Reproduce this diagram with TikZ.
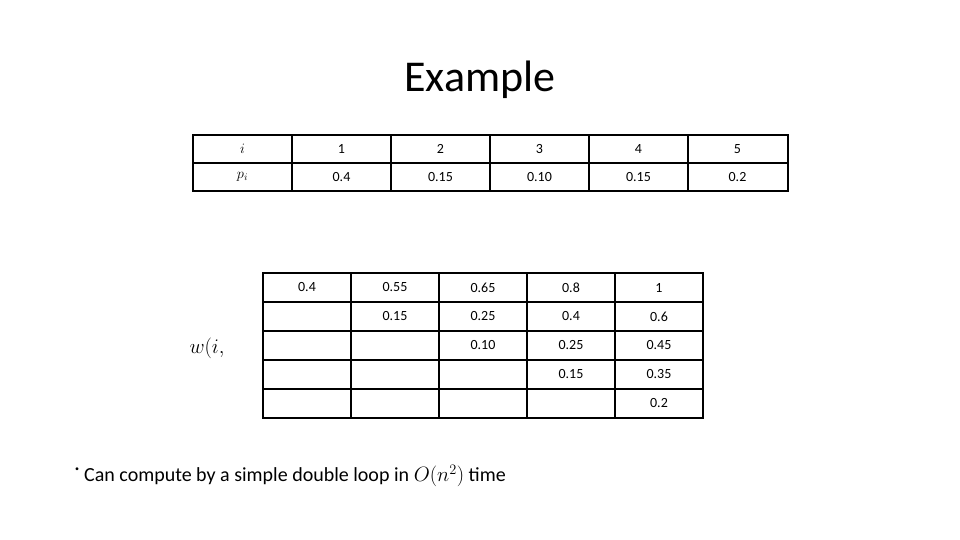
\documentclass[tikz,border=0pt]{standalone}
\usepackage{fontspec}
\setmainfont{Carlito}
\tikzset{
  cell/.style={font=\fontsize{14}{16}\selectfont, inner sep=0pt, anchor=center},
  grid line/.style={line width=1.6pt, black}
}
\begin{document}
\begin{tikzpicture}[x=1pt, y=-1pt]
    \useasboundingbox (0,0) rectangle (960,540);

    \node[font=\fontsize{44}{50}\selectfont] (title) at (480,80) {Example};

    % probabilities table
    \draw[grid line] (193,135) rectangle (788,191);
    \draw[grid line] (193,163) -- (788,163);
    \foreach \x in {292,391,490,589,688}
      \draw[grid line] (\x,135) -- (\x,191);

    \node[cell] (ihead) at (242.5,149) {$i$};
    \node[cell] (phead) at (242.5,177) {$p_i$};
    \foreach \v [count=\k] in {0.4,0.15,0.10,0.15,0.2} {
      \node[cell] (i\k) at (242.5+99*\k,149) {\k};
      \node[cell] (p\k) at (242.5+99*\k,177) {\v};
    }

    % w table
    \draw[grid line] (263,273) rectangle (703,418);
    \foreach \y in {302,331,360,389}
      \draw[grid line] (263,\y) -- (703,\y);
    \foreach \x in {351,439,527,615}
      \draw[grid line] (\x,273) -- (\x,418);

    \node[font=\fontsize{22}{24}\selectfont, anchor=west] (wlabel) at (186,348) {$w(i,$};

    \foreach \r/\vals in {1/{0.4,0.55,0.65,0.8,1},
                          2/{0.15,0.25,0.4,0.6},
                          3/{0.10,0.25,0.45},
                          4/{0.15,0.35},
                          5/{0.2}} {
      \foreach \v [count=\c] in \vals {
        \pgfmathsetmacro{\cx}{307+88*(\c+\r-2)}
        \pgfmathsetmacro{\cy}{287.5+29*(\r-1)}
        \node[cell] (w\r-\c) at (\cx,\cy) {\v};
      }
    }

    % bottom line
    \node[font=\fontsize{8}{10}\selectfont] (bullet) at (77,470) {\textbullet};
    \node[font=\fontsize{20}{24}\selectfont, anchor=west, inner sep=0pt] (note) at (84,476)
      {Can compute by a simple double loop in $O\bigl(n^2\bigr)$ time};
\end{tikzpicture}
\end{document}
